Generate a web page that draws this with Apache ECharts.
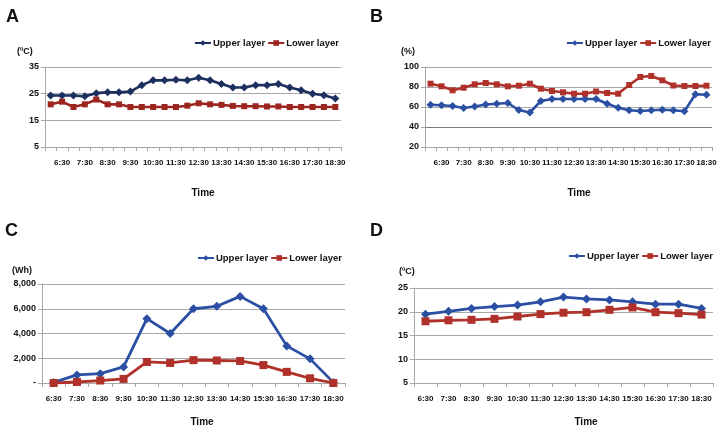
<!DOCTYPE html>
<html>
<head>
<meta charset="utf-8">
<script src="https://cdn.jsdelivr.net/npm/echarts@6/dist/echarts.min.js"></script>
<style>
  html, body { margin: 0; padding: 0; background: #fff; }
  #chart-container { width: 728px; height: 433px; }
</style>
</head>
<body>
<div id="chart-container"></div>
<script>
// data

// half-hourly time steps (panels A and B)
var timesHalf = ['6:00', '6:30', '7:00', '7:30', '8:00', '8:30', '9:00', '9:30', '10:00', '10:30', '11:00', '11:30', '12:00',
  '12:30', '13:00', '13:30', '14:00', '14:30', '15:00', '15:30', '16:00', '16:30', '17:00', '17:30', '18:00', '18:30'];
// hourly time steps (panels C and D)
var timesHour = ['6:30', '7:30', '8:30', '9:30', '10:30', '11:30', '12:30', '13:30', '14:30', '15:30', '16:30', '17:30', '18:30'];

// A - temperature (ºC)
var tempUpperA = [24.3, 24.3, 24.3, 24, 25.2, 25.5, 25.5, 25.8, 28.2, 30, 30, 30.2, 30,
  31, 30, 28.6, 27.3, 27.3, 28.2, 28.2, 28.6, 27.3, 26.3, 25, 24.4, 23.2];
var tempLowerA = [21, 22, 20, 21, 22.8, 21, 21, 20, 20, 20, 20, 20, 20.5,
  21.4, 21, 20.8, 20.4, 20.3, 20.3, 20.2, 20.2, 20, 20, 20, 20, 20];

// B - humidity (%)
var humUpperB = [62.3, 61.7, 61, 59, 60.5, 62.5, 63.3, 64, 57, 54.5, 66, 68, 68,
  68, 68, 68, 63.3, 59.3, 56.7, 56, 56.7, 57.3, 56.7, 55.7, 72.7, 72.3];
var humLowerB = [83.3, 80.7, 76.7, 79.3, 82.7, 84, 82.7, 80.7, 81.3, 83.3, 78.3, 76,
  74.7, 73.3, 73.3, 75.5, 74, 73.3, 82, 90, 91, 86.7, 81.5, 81, 81, 81.3];

// C - solar energy (Wh)
var energyUpperC = [50, 650, 750, 1300, 5200, 4000, 6000, 6200, 7000, 6000, 3000, 1950, 50];
var energyLowerC = [0, 80, 200, 330, 1700, 1620, 1850, 1820, 1780, 1450, 900, 380, 0];

// D - temperature (ºC)
var tempUpperD = [19.5, 20.1, 20.7, 21.1, 21.4, 22.1, 23.1, 22.7, 22.5, 22.1, 21.6, 21.6, 20.7];
var tempLowerD = [18, 18.2, 18.3, 18.5, 19, 19.5, 19.8, 19.9, 20.4, 20.9, 19.9, 19.7, 19.4];

var panelLetters = ['A', 'B', 'C', 'D'];
var unitLabels = ['(ºC)', '(%)', '(Wh)', '(ºC)'];

// colours
var navy = '#1c2f5e';
var darkRed = '#9c2520';
var blue = '#2b4fa3';
var red = '#b0302a';
var gridGray = '#a8a8a8';
var textColor = '#111';

var dom = document.getElementById('chart-container');
var myChart = echarts.init(dom, null, { renderer: 'canvas' });

var grids = [
  { left: 45, top: 67, width: 296, height: 80 },
  { left: 425, top: 67, width: 287, height: 80 },
  { left: 42, top: 284, width: 303, height: 99 },
  { left: 414, top: 288, width: 299, height: 95 }
];

function xAxisFor(i, cats, half) {
  return {
    type: 'category',
    gridIndex: i,
    data: cats,
    boundaryGap: true,
    axisLine: { lineStyle: { color: gridGray, width: 1 } },
    axisTick: { show: true, interval: 0, length: 4, lineStyle: { color: gridGray } },
    axisLabel: {
      interval: half ? function (idx) { return idx % 2 === 1; } : 0,
      margin: 12,
      fontSize: 8,
      fontWeight: 'bold',
      fontFamily: "'Liberation Sans Narrow', 'Liberation Sans', Arial, sans-serif",
      color: textColor
    }
  };
}

function yAxisFor(i, min, max, step, fmt, lineColors) {
  return {
    type: 'value',
    gridIndex: i,
    min: min,
    max: max,
    interval: step,
    axisLine: { show: true, lineStyle: { color: gridGray } },
    axisTick: { show: true, length: 4, lineStyle: { color: gridGray } },
    axisLabel: {
      fontSize: 9,
      fontWeight: 'bold',
      fontFamily: "'Liberation Sans', Arial, sans-serif",
      color: textColor,
      margin: 6,
      formatter: fmt
    },
    splitLine: { show: true, lineStyle: { color: lineColors || gridGray, width: 1.2 } }
  };
}

function lineSeries(name, i, data, color, symbol, size, width) {
  return {
    name: name,
    type: 'line',
    xAxisIndex: i,
    yAxisIndex: i,
    data: data,
    symbol: symbol,
    symbolSize: size,
    showAllSymbol: true,
    lineStyle: { color: color, width: width },
    itemStyle: { color: color },
    animation: false
  };
}

function legendFor(right, top, upColor, lowColor) {
  return {
    right: right,
    top: top,
    itemWidth: 16,
    itemHeight: 7,
    itemGap: 2,
    padding: 0,
    selectedMode: false,
    textStyle: { fontSize: 9.5, fontWeight: 'bold', color: textColor, fontFamily: "'Liberation Sans', Arial, sans-serif", padding: [0, 0, 0, -3] },
    data: [
      { name: 'Upper layer', itemStyle: { color: upColor }, lineStyle: { color: upColor } },
      { name: 'Lower layer', itemStyle: { color: lowColor }, lineStyle: { color: lowColor } }
    ]
  };
}

function thousands(v) {
  return v === 0 ? '-' : v.toLocaleString('en-US');
}

var letterPos = [[6, 8], [370, 8], [5, 222], [370, 222]];
var unitPos = [[17, 47], [401, 47], [12, 266], [399, 267]];
var timePos = [[203, 193], [579, 193], [202, 422], [586, 422]];

var graphics = [];
for (var k = 0; k < 4; k++) {
  graphics.push({
    type: 'text', left: letterPos[k][0], top: letterPos[k][1],
    style: { text: panelLetters[k], font: 'bold 18px "Liberation Sans", Arial, sans-serif', fill: '#111' }
  });
  graphics.push({
    type: 'text', left: unitPos[k][0], top: unitPos[k][1],
    style: { text: unitLabels[k], font: 'bold 9px "Liberation Sans", Arial, sans-serif', fill: textColor }
  });
  graphics.push({
    type: 'text', x: timePos[k][0], y: timePos[k][1],
    style: { text: 'Time', font: 'bold 10px "Liberation Sans", Arial, sans-serif', fill: textColor, align: 'center', verticalAlign: 'middle' }
  });
}

var option = {
  backgroundColor: '#fff',
  animation: false,
  grid: grids,
  legend: [
    legendFor(389, 38, navy, darkRed),
    legendFor(17, 38, blue, red),
    legendFor(386, 253, blue, red),
    legendFor(15, 251, blue, red)
  ],
  xAxis: [
    xAxisFor(0, timesHalf, true),
    xAxisFor(1, timesHalf, true),
    xAxisFor(2, timesHour, false),
    xAxisFor(3, timesHour, false)
  ],
  yAxis: [
    yAxisFor(0, 5, 35, 10),
    yAxisFor(1, 20, 100, 20, null, [gridGray, '#7a7a7a', gridGray, gridGray, gridGray]),
    yAxisFor(2, 0, 8000, 2000, thousands),
    yAxisFor(3, 5, 25, 5)
  ],
  series: [
    lineSeries('Upper layer', 0, tempUpperA, navy, 'diamond', 8, 2.6),
    lineSeries('Lower layer', 0, tempLowerA, darkRed, 'rect', 6, 2.6),
    lineSeries('Upper layer', 1, humUpperB, blue, 'diamond', 8, 2.6),
    lineSeries('Lower layer', 1, humLowerB, red, 'rect', 6, 2.6),
    lineSeries('Upper layer', 2, energyUpperC, blue, 'diamond', 9, 2.8),
    lineSeries('Lower layer', 2, energyLowerC, red, 'rect', 8, 2.8),
    lineSeries('Upper layer', 3, tempUpperD, blue, 'diamond', 9, 2.8),
    lineSeries('Lower layer', 3, tempLowerD, red, 'rect', 8, 2.8)
  ],
  graphic: graphics
};

myChart.setOption(option);

window.addEventListener('resize', myChart.resize);
</script>
</body>
</html>
